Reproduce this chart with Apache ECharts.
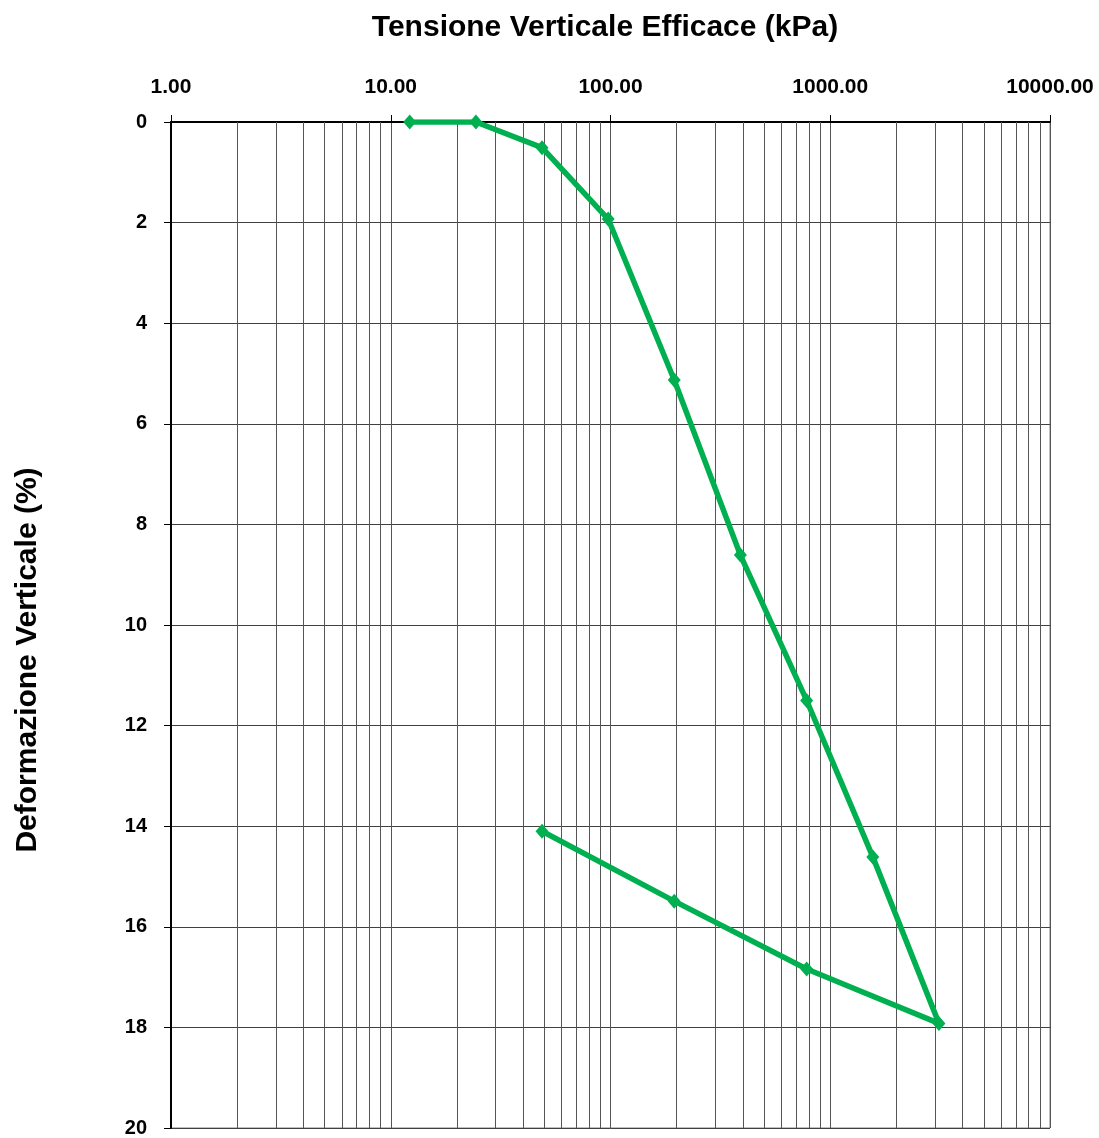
<!DOCTYPE html>
<html>
<head>
<meta charset="utf-8">
<script src="https://cdn.jsdelivr.net/npm/echarts@6/dist/echarts.min.js"></script>
<style>
html,body{margin:0;padding:0;background:#fff;}
#chart{width:1099px;height:1138px;}
</style>
</head>
<body>
<div id="chart"></div>
<script>
// Data
var stress = [12.2, 24.4, 48.8, 97.6, 195, 390, 781, 1562, 3123, 781, 195, 48.8]; // kPa
var strain = [0, 0, 0.51, 1.93, 5.13, 8.61, 11.5, 14.61, 17.92, 16.84, 15.49, 14.1]; // %
var xTitle = 'Tensione Verticale Efficace (kPa)';
var yTitle = 'Deformazione Verticale (%)';
var decades = [1, 10, 100, 1000];
var minorSteps = [2, 3, 4, 5, 6, 7, 8, 9];

var points = stress.map(function (s, i) { return [s, strain[i]]; });
var minorLines = [];
decades.forEach(function (d) {
  minorSteps.forEach(function (m) { minorLines.push({ xAxis: d * m }); });
});

var FONT = 'Liberation Sans, Arial, sans-serif';
var chart = echarts.init(document.getElementById('chart'), null, { renderer: 'canvas' });
chart.setOption({
  animation: false,
  backgroundColor: '#ffffff',
  grid: { left: 171, top: 122, right: 49, bottom: 6, show: true, borderColor: '#808080', borderWidth: 1, containLabel: false },
  graphic: [
    { type: 'text', x: 605, y: 28, style: { text: xTitle, font: 'bold 30px ' + FONT, fill: '#000', textAlign: 'center', textVerticalAlign: 'middle' } },
    { type: 'text', x: 28, y: 660, rotation: Math.PI / 2, style: { text: yTitle, font: 'bold 30px ' + FONT, fill: '#000', textAlign: 'center', textVerticalAlign: 'middle' } }
  ],
  xAxis: {
    type: 'log', logBase: 10, min: 1, max: 10000, position: 'top',
    axisLine: { show: true, lineStyle: { color: '#000', width: 2 } },
    axisTick: { show: true, length: 7, inside: false, lineStyle: { color: '#000', width: 1 } },
    axisLabel: { margin: 24, fontFamily: FONT, fontWeight: 'bold', fontSize: 21, color: '#000',
      formatter: function (v) { return Number(v).toFixed(2); } },
    splitLine: { show: true, lineStyle: { color: '#555', width: 1 } },
    minorTick: { show: false }
  },
  yAxis: {
    type: 'value', inverse: true, min: 0, max: 20, interval: 2,
    axisLine: { show: true, lineStyle: { color: '#000', width: 2 } },
    axisTick: { show: true, length: 7, inside: false, lineStyle: { color: '#000', width: 1 } },
    axisLabel: { margin: 24, fontFamily: FONT, fontWeight: 'bold', fontSize: 20, color: '#000' },
    splitLine: { show: true, lineStyle: { color: '#404040', width: 1 } }
  },
  series: [
    {
      type: 'line', data: [], z: 1, silent: true,
      markLine: { silent: true, symbol: ['none', 'none'], label: { show: false },
        lineStyle: { color: '#555', width: 1, type: 'solid' }, animation: false, data: minorLines }
    },
    {
      type: 'line', data: points, z: 5,
      symbol: 'diamond', symbolSize: [13, 15], showSymbol: true,
      lineStyle: { color: '#00B050', width: 5.5 },
      itemStyle: { color: '#00B050' }
    }
  ]
});
</script>
</body>
</html>
